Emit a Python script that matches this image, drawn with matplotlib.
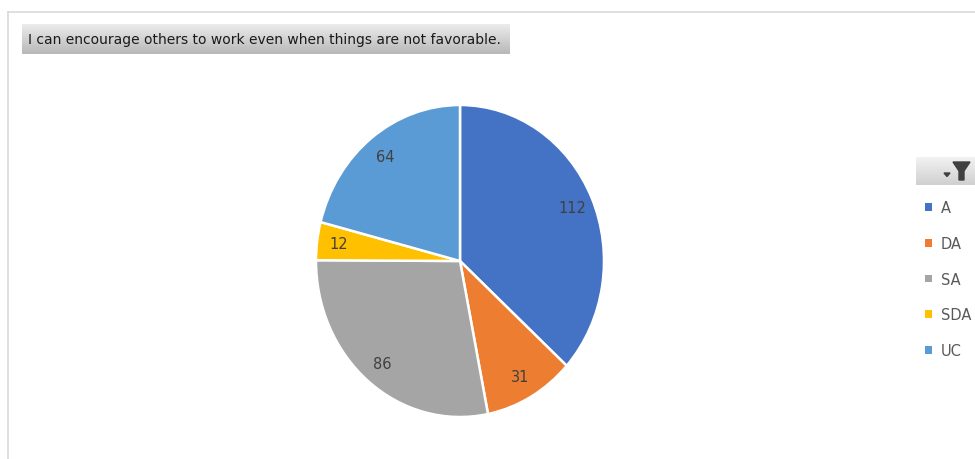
import matplotlib.pyplot as plt
import numpy as np
from matplotlib.patches import Polygon
from matplotlib.lines import Line2D
from matplotlib.colors import LinearSegmentedColormap

labels = ['A', 'DA', 'SA', 'SDA', 'UC']
counts = [112, 31, 86, 12, 64]
colors = ['#4472C4', '#ED7D31', '#A5A5A5', '#FFC000', '#5B9BD5']
title = 'I can encourage others to work even when things are not favorable.'

W, H = 975, 460
fig = plt.figure(figsize=(W / 100, H / 100), dpi=100)


def px_axes(x0, y0, w, h):
    # axes placed in pixel units measured from the top-left corner
    return fig.add_axes([x0 / W, 1 - (y0 + h) / H, w / W, h / H])


# light outer frame of the chart area
fig.add_artist(Line2D([8 / W, 1], [1 - 13 / H] * 2, color='#d9d9d9', lw=1.2))
fig.add_artist(Line2D([8 / W] * 2, [0, 1 - 13 / H], color='#d9d9d9', lw=1.2))

# title box with a soft grey gradient
tax = px_axes(22, 25, 488, 30)
grad = np.linspace(0, 1, 50).reshape(-1, 1)
tax.imshow(grad, aspect='auto', cmap=LinearSegmentedColormap.from_list(
    'g', ['#ebebeb', '#d2d2d2', '#b8b8b8']), extent=[0, 1, 0, 1], origin='upper')
tax.set_xlim(0, 1)
tax.set_ylim(0, 1)
tax.axis('off')
tax.text(0.013, 0.5, title, fontsize=10, color='#1a1a1a', va='center', ha='left')

# pie, slightly taller than wide
ax = px_axes(460 - 144, 262 - 156, 288, 312)
wedges, texts = ax.pie(counts, colors=colors, startangle=90, counterclock=False,
                       labels=[str(c) for c in counts], labeldistance=0.85,
                       wedgeprops=dict(edgecolor='white', linewidth=1.8),
                       textprops=dict(fontsize=10.5, color='#404040'))
for t in texts:
    t.set_ha('center')
    t.set_va('center')
ax.set_aspect('auto')
ax.set_xlim(-1, 1)
ax.set_ylim(-1, 1)

# legend on the right
leg = fig.legend(wedges, labels, loc='upper left', bbox_to_anchor=(918 / W, 1 - 194 / H),
                 frameon=False, fontsize=10.5, labelcolor='#595959',
                 handlelength=0.45, handleheight=0.45, handletextpad=0.6,
                 labelspacing=1.42, borderpad=0)
for h in leg.legend_handles:
    h.set_edgecolor('none')

# filter button above the legend
bax = px_axes(916, 158, 59, 28)
bgrad = np.linspace(0, 1, 40).reshape(-1, 1)
bax.imshow(bgrad, aspect='auto', cmap=LinearSegmentedColormap.from_list(
    'b', ['#f2f2f2', '#d0d0d0']), extent=[0, 59, 0, 28], origin='upper')
bax.set_xlim(0, 59)
bax.set_ylim(0, 28)
bax.axis('off')
# funnel icon
bax.add_patch(Polygon([[37, 23], [54, 23], [48, 14], [48, 5], [43, 5], [43, 14]],
                      closed=True, color='#404040'))
bax.add_patch(Polygon([[28, 12], [34, 12], [31, 8.5]], closed=True, color='#404040'))

plt.savefig('out.png', dpi=100)
